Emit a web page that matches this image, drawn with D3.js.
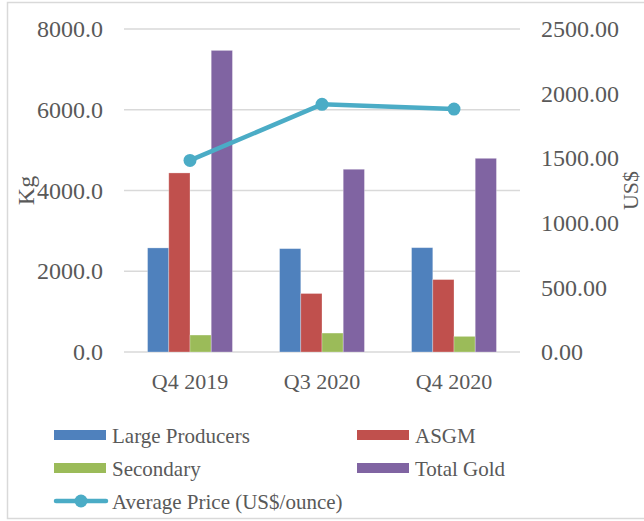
<!DOCTYPE html>
<html>
<head>
<meta charset="utf-8">
<script src="https://cdn.jsdelivr.net/npm/d3@7/dist/d3.min.js"></script>
<style>
  html, body { margin: 0; padding: 0; background: #fff; }
  svg text { font-family: "Liberation Serif", "Times New Roman", serif; fill: #595959; }
</style>
</head>
<body>
<svg id="chart" width="644" height="521"></svg>
<script>
// Quarterly gold production (kg) and average gold price (US$/ounce)
const quarters = ["Q4 2019", "Q3 2020", "Q4 2020"];
const seriesNames = ["Large Producers", "ASGM", "Secondary", "Total Gold"];
const largeProducers = [2578, 2560, 2584];
const asgm = [4435, 1449, 1794];
const secondary = [420, 469, 387];
const totalGold = [7470, 4526, 4797];
const avgPrice = [1483, 1917, 1880];
const kgTicks = [0, 2000, 4000, 6000, 8000];
const priceTicks = [0, 500, 1000, 1500, 2000, 2500];
const priceName = "Average Price (US$/ounce)";

const barColors = ["#4f81bd", "#c0504d", "#9bbb59", "#8064a2"];
const lineColor = "#4bacc6";
const gridColor = "#d9d9d9";

const svg = d3.select("#chart");
const plot = { left: 124, right: 520, top: 29, bottom: 352 };

// Outer chart frame (left, top and bottom edges)
svg.append("path")
  .attr("d", "M 644 2.5 H 7.5 V 518.5 H 644")
  .attr("fill", "none")
  .attr("stroke", gridColor)
  .attr("stroke-width", 1.5);

const x0 = d3.scaleBand().domain(quarters).range([plot.left, plot.right]).padding(0);
const x1 = d3.scaleBand().domain(seriesNames).range([0, x0.bandwidth()]).paddingInner(0).paddingOuter(1.11);
const yKg = d3.scaleLinear().domain([0, 8000]).range([plot.bottom, plot.top]);
const yPrice = d3.scaleLinear().domain([0, 2500]).range([plot.bottom, plot.top]);

// Horizontal gridlines
svg.append("g")
  .selectAll("line")
  .data(kgTicks)
  .join("line")
  .attr("x1", plot.left).attr("x2", plot.right)
  .attr("y1", d => yKg(d)).attr("y2", d => yKg(d))
  .attr("stroke", gridColor)
  .attr("stroke-width", 1.5);

// Left axis (Kg)
const leftAxis = svg.append("g")
  .attr("transform", `translate(${plot.left},0)`)
  .call(d3.axisLeft(yKg).tickValues(kgTicks).tickFormat(d3.format(".1f")).tickSize(0).tickPadding(21));
leftAxis.select(".domain").remove();
leftAxis.selectAll("text").attr("font-size", 24).style("font-family", "Liberation Serif").attr("fill", "#595959");

// Right axis (US$)
const rightAxis = svg.append("g")
  .attr("transform", `translate(${plot.right},0)`)
  .call(d3.axisRight(yPrice).tickValues(priceTicks).tickFormat(d3.format(".2f")).tickSize(0).tickPadding(21));
rightAxis.select(".domain").remove();
rightAxis.selectAll("text").attr("font-size", 24).style("font-family", "Liberation Serif").attr("fill", "#595959");

// Category axis labels
svg.append("g")
  .selectAll("text")
  .data(quarters)
  .join("text")
  .attr("x", d => x0(d) + x0.bandwidth() / 2)
  .attr("y", 389)
  .attr("text-anchor", "middle")
  .attr("font-size", 22)
  .text(d => d);

// Axis titles
svg.append("text")
  .attr("transform", `translate(34,${(plot.top + plot.bottom) / 2}) rotate(-90)`)
  .attr("text-anchor", "middle")
  .attr("font-size", 24)
  .text("Kg");
svg.append("text")
  .attr("transform", `translate(638,${(plot.top + plot.bottom) / 2}) rotate(-90)`)
  .attr("text-anchor", "middle")
  .attr("font-size", 22)
  .text("US$");

// Clustered bars
const seriesValues = [largeProducers, asgm, secondary, totalGold];
const barData = [];
quarters.forEach((q, i) => {
  seriesNames.forEach((s, j) => barData.push({ q, s, j, v: seriesValues[j][i] }));
});
svg.append("g")
  .selectAll("rect")
  .data(barData)
  .join("rect")
  .attr("x", d => x0(d.q) + x1(d.s))
  .attr("width", x1.bandwidth())
  .attr("y", d => yKg(d.v))
  .attr("height", d => yKg(0) - yKg(d.v))
  .attr("fill", d => barColors[d.j])
  .attr("stroke", "rgba(255,255,255,0.35)")
  .attr("stroke-width", 0.8);

// Price line with markers
const cx = q => x0(q) + x0.bandwidth() / 2;
const line = d3.line().x((d, i) => cx(quarters[i])).y(d => yPrice(d));
svg.append("path")
  .datum(avgPrice)
  .attr("d", line)
  .attr("fill", "none")
  .attr("stroke", lineColor)
  .attr("stroke-width", 4.5)
  .attr("stroke-linejoin", "round");
svg.append("g")
  .selectAll("circle")
  .data(avgPrice)
  .join("circle")
  .attr("cx", (d, i) => cx(quarters[i]))
  .attr("cy", d => yPrice(d))
  .attr("r", 6.5)
  .attr("fill", lineColor);

// Legend
const legendItems = [
  { name: seriesNames[0], color: barColors[0], x: 54, y: 435 },
  { name: seriesNames[1], color: barColors[1], x: 357, y: 435 },
  { name: seriesNames[2], color: barColors[2], x: 54, y: 468 },
  { name: seriesNames[3], color: barColors[3], x: 357, y: 468 }
];
const legend = svg.append("g");
legendItems.forEach(it => {
  legend.append("rect")
    .attr("x", it.x).attr("y", it.y - 5)
    .attr("width", 52).attr("height", 10)
    .attr("fill", it.color);
  legend.append("text")
    .attr("x", it.x + 58).attr("y", it.y + 7.5)
    .attr("font-size", 21)
    .text(it.name);
});
legend.append("line")
  .attr("x1", 56).attr("x2", 106)
  .attr("y1", 501).attr("y2", 501)
  .attr("stroke", lineColor).attr("stroke-width", 4.5).attr("stroke-linecap", "round");
legend.append("circle")
  .attr("cx", 81).attr("cy", 501).attr("r", 6.5).attr("fill", lineColor);
legend.append("text")
  .attr("x", 112).attr("y", 508.5)
  .attr("font-size", 21)
  .text(priceName);
</script>
</body>
</html>
